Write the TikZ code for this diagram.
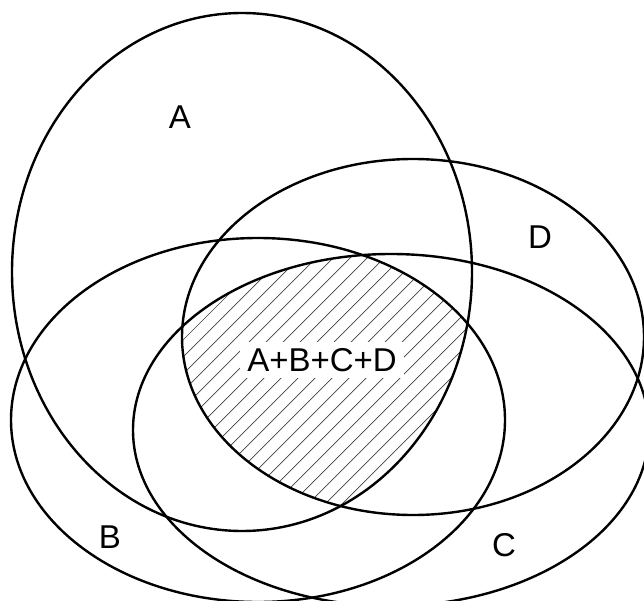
\documentclass[tikz,border=0pt]{standalone}
\usepackage{fontspec}
\setmainfont{Liberation Sans}
\begin{document}
\begin{tikzpicture}[x=1pt,y=-1pt,
  venn/.style={line width=2.4pt, black},
  hatchline/.style={line width=0.7pt, black!75},
  lbl/.style={font=\fontsize{33}{36}\selectfont, inner sep=1pt}]
\useasboundingbox (0,0) rectangle (644,601);
\clip (0,0) rectangle (644,601);
% hatched intersection of all four sets
\begin{scope}
  \clip (242,272) ellipse [x radius=230pt, y radius=259pt];
  \clip (258,420) ellipse [x radius=247pt, y radius=182pt];
  \clip (391,430) ellipse [x radius=258pt, y radius=176pt];
  \clip (413,337) ellipse [x radius=231pt, y radius=178pt];
  \foreach \x in {-400,-383,...,700}
    \draw[hatchline] (\x,600) -- (\x+600,0);
\end{scope}
% the four sets
\draw[venn] (242,272) ellipse [x radius=230pt, y radius=259pt]; % A
\draw[venn] (258,420) ellipse [x radius=247pt, y radius=182pt]; % B
\draw[venn] (391,430) ellipse [x radius=258pt, y radius=176pt]; % C
\draw[venn] (413,337) ellipse [x radius=231pt, y radius=178pt]; % D
% labels
\node[lbl] (la) at (180,117) {A};
\node[lbl] (lb) at (110,537) {B};
\node[lbl] (lc) at (504,545) {C};
\node[lbl] (ld) at (540,237) {D};
\node[lbl, fill=white, inner xsep=7pt, inner ysep=6pt] (labcd) at (322,360) {A+B+C+D};
\end{tikzpicture}
\end{document}
